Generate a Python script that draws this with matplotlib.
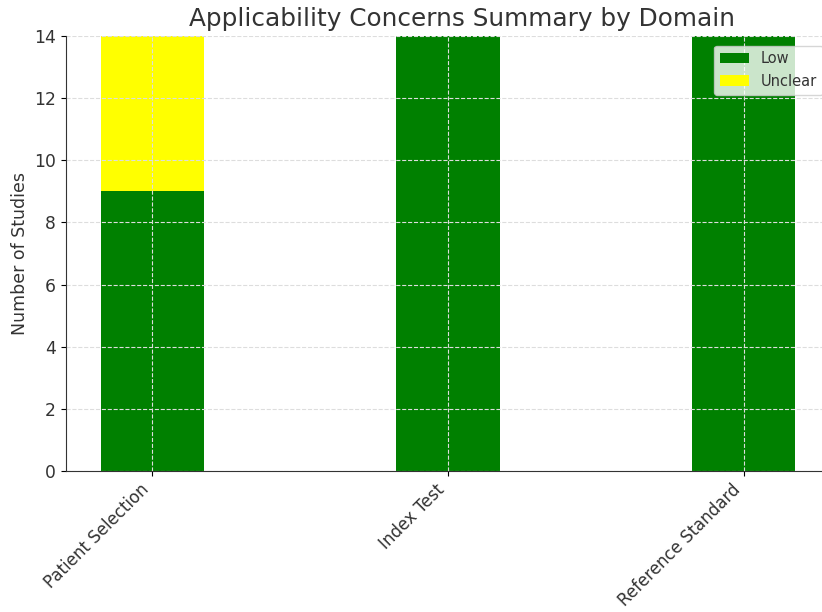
import numpy as np
import matplotlib.pyplot as plt

# 数据
domains = ['Patient Selection', 'Index Test', 'Reference Standard']
low = [9, 14, 14]
unclear = [5, 0, 0]

fig = plt.figure(figsize=(8.22, 6.12), dpi=100)
# 原图右侧被裁掉一部分, 所以坐标轴超出画布
ax = fig.add_axes([0.080, 0.2304, 0.930, 0.7106])

x = np.arange(len(domains))
width = 0.35
ax.bar(x, low, width, color='green', label='Low')
ax.bar(x, unclear, width, bottom=low, color='yellow', label='Unclear')

ax.set_ylim(0, 14)
ax.set_xticks(x)
ax.set_xticklabels(domains, rotation=45, ha='right', fontsize=12, color='#333333')
ax.tick_params(axis='y', labelsize=12.3, labelcolor='#333333')
ax.set_ylabel('Number of Studies', fontsize=12.5, color='#333333')
ax.set_title('Applicability Concerns Summary by Domain', fontsize=17.8, color='#333333', pad=7, x=0.518)

ax.grid(True, linestyle='--', color='#dddddd', linewidth=0.8)
ax.spines['top'].set_visible(False)
ax.spines['right'].set_visible(False)
ax.spines['left'].set_color('#333333')
ax.spines['bottom'].set_color('#333333')

ax.legend(loc='upper right', fontsize=10.5, labelcolor='#333333', bbox_to_anchor=(1.0, 0.995))

fig.savefig('out.png', dpi=100)
